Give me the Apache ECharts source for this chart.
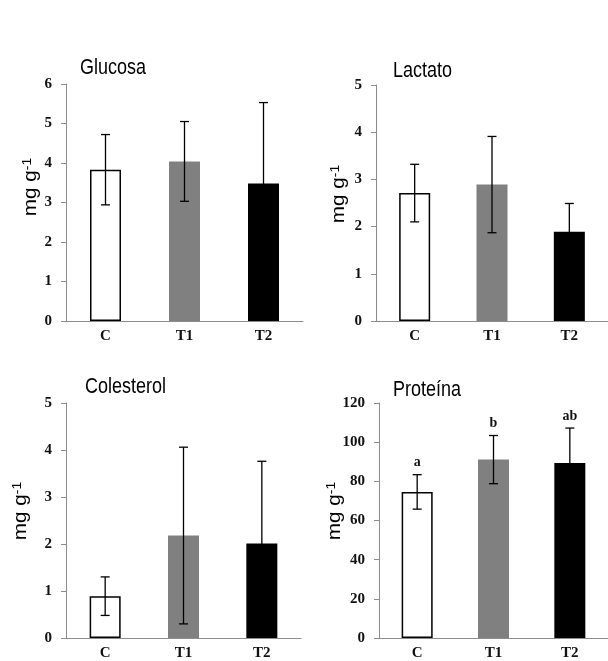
<!DOCTYPE html>
<html>
<head>
<meta charset="utf-8">
<script src="https://cdn.jsdelivr.net/npm/echarts@6/dist/echarts.min.js"></script>
<style>
  html, body { margin: 0; padding: 0; background: #fff; }
  #chart { width: 608px; height: 661px; }
</style>
</head>
<body>
<div id="chart"></div>
<script>
// datos (media y desviacion)
const categories = ['C', 'T1', 'T2'];
const glucosaMean = [3.83, 4.04, 3.48];
const glucosaSd = [0.89, 1.01, 2.05];
const lactatoMean = [2.71, 2.89, 1.89];
const lactatoSd = [0.61, 1.02, 0.60];
const colesterolMean = [0.89, 2.18, 2.01];
const colesterolSd = [0.41, 1.88, 1.75];
const proteinaMean = [74.6, 91.1, 89.4];
const proteinaSd = [8.8, 12.3, 17.8];
const proteinaLetters = ['a', 'b', 'ab'];
const titles = ['Glucosa', 'Lactato', 'Colesterol', 'Proteína'];
const yMax = [6, 5, 5, 120];
const yStep = [1, 1, 1, 20];

const barColors = ['#ffffff', '#808080', '#000000'];
const axisColor = '#8c8c8c';
const serif = '"Liberation Serif", "Times New Roman", serif';
const sans = '"Liberation Sans", Arial, sans-serif';

const panels = [
    { mean: glucosaMean, sd: glucosaSd, grid: { left: 66, top: 84, width: 237, height: 237 },
      title: [80, 68.5], name: [31, 187] },
    { mean: lactatoMean, sd: lactatoSd, grid: { left: 376, top: 85, width: 236, height: 236 },
      title: [393, 71], name: [339, 194] },
    { mean: colesterolMean, sd: colesterolSd, grid: { left: 66, top: 403, width: 235, height: 235 },
      title: [85, 387], name: [21, 511] },
    { mean: proteinaMean, sd: proteinaSd, grid: { left: 379, top: 403, width: 231, height: 235 },
      title: [393, 390], name: [335, 511], letters: proteinaLetters }
];

let chart = echarts.init(document.getElementById('chart'));

const grid = [], xAxis = [], yAxis = [], series = [], graphic = [];

panels.forEach((p, i) => {
    grid.push(p.grid);
    xAxis.push({
        type: 'category',
        gridIndex: i,
        data: categories,
        axisLine: { lineStyle: { color: axisColor, width: 1 } },
        axisTick: { show: false },
        axisLabel: { color: '#111', fontFamily: serif, fontWeight: 'bold', fontSize: 15, margin: 8 }
    });
    yAxis.push({
        type: 'value',
        gridIndex: i,
        min: 0,
        max: yMax[i],
        interval: yStep[i],
        axisLine: { show: true, lineStyle: { color: axisColor, width: 1 } },
        axisTick: { show: true, length: 5, lineStyle: { color: axisColor } },
        splitLine: { show: false },
        axisLabel: { color: '#111', fontFamily: serif, fontWeight: 'bold', fontSize: 15, margin: 14 }
    });
    series.push({
        type: 'bar',
        xAxisIndex: i,
        yAxisIndex: i,
        barWidth: 31,
        silent: true,
        data: p.mean.map((v, k) => ({
            value: v,
            itemStyle: {
                color: barColors[k],
                borderColor: k === 0 ? '#000' : barColors[k],
                borderWidth: k === 0 ? 1.5 : 0
            }
        }))
    });
    series.push({
        type: 'custom',
        xAxisIndex: i,
        yAxisIndex: i,
        z: 5,
        silent: true,
        data: p.mean.map((v, k) => [k, v, p.sd[k]]),
        encode: { x: 0, y: 1 },
        renderItem: (params, api) => {
            const x = api.value(0), m = api.value(1), s = api.value(2);
            const top = api.coord([x, m + s]);
            const bot = api.coord([x, m - s]);
            const half = 4.5;
            const st = { stroke: '#000', lineWidth: 1.3 };
            const children = [
                { type: 'line', shape: { x1: top[0], y1: top[1], x2: bot[0], y2: bot[1] }, style: st },
                { type: 'line', shape: { x1: top[0] - half, y1: top[1], x2: top[0] + half, y2: top[1] }, style: st },
                { type: 'line', shape: { x1: bot[0] - half, y1: bot[1], x2: bot[0] + half, y2: bot[1] }, style: st }
            ];
            if (p.letters) {
                children.push({
                    type: 'text',
                    x: top[0], y: top[1] - 12,
                    style: { text: p.letters[params.dataIndex], fill: '#111', font: 'bold 14px ' + serif,
                             align: 'center', verticalAlign: 'middle' }
                });
            }
            return { type: 'group', children: children };
        }
    });
    graphic.push({
        type: 'text',
        x: p.title[0], y: p.title[1],
        scaleY: 1.2,
        style: { text: titles[i], fill: '#000', font: '18px ' + sans, textAlign: 'left', textVerticalAlign: 'middle' }
    });
    graphic.push({
        type: 'text',
        x: p.name[0], y: p.name[1],
        rotation: Math.PI / 2,
        scaleX: 1.15,
        style: {
            text: '{m|mg g}{s|-1}',
            textAlign: 'center',
            textVerticalAlign: 'middle',
            fill: '#000',
            rich: {
                m: { fontSize: 18, fontFamily: sans, fill: '#000' },
                s: { fontSize: 12, fontFamily: sans, fill: '#000', verticalAlign: 'top' }
            }
        }
    });
});

chart.setOption({
    animation: false,
    backgroundColor: '#fff',
    grid: grid,
    xAxis: xAxis,
    yAxis: yAxis,
    series: series,
    graphic: graphic
});
window.addEventListener('resize', chart.resize);
</script>
</body>
</html>
